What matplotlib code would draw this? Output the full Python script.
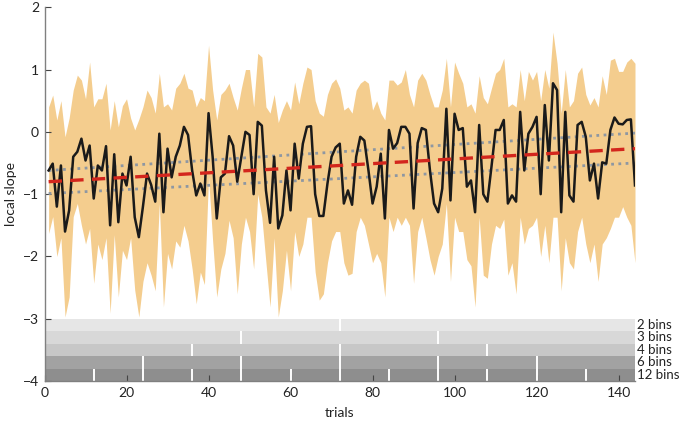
import numpy as np
import matplotlib
matplotlib.use("Agg")
import matplotlib.pyplot as plt

plt.rcParams['font.family'] = ['Lato', 'DejaVu Sans']

# trial-by-trial local slope (black line) and its spread (orange band)
trials = list(range(1, 145))
slope = [-0.62, -0.51, -1.20, -0.54, -1.60, -1.26, -0.40, -0.32, -0.11, -0.46,
         -0.22, -1.07, -0.54, -0.62, -0.23, -1.50, -0.36, -1.45, -0.67, -0.86,
         -0.40, -1.37, -1.69, -1.20, -0.67, -0.85, -1.12, -0.03, -1.29, -0.27,
         -0.73, -0.40, -0.22, 0.08, -0.05, -0.62, -1.02, -0.83, -1.02, 0.30,
         -0.40, -1.39, -0.73, -0.67, -0.07, -0.22, -0.80, -0.40, 0.00, -0.05,
         -1.00, 0.16, 0.10, -0.94, -1.46, -0.40, -1.55, -1.34, -0.62, -1.26,
         -0.19, -0.75, -0.19, 0.08, 0.09, -1.00, -1.35, -1.35, -0.83, -0.40,
         -0.25, -0.19, -1.15, -0.94, -1.17, -0.40, -0.08, -0.14, -0.62, -1.15,
         -0.88, -0.35, -1.39, 0.03, -0.27, -0.18, 0.08, 0.08, -0.03, -1.23,
         -0.18, 0.06, 0.03, -0.62, -1.15, -1.29, -0.91, 0.37, -1.10, 0.29,
         0.03, 0.06, -0.88, -0.78, -1.29, 0.11, -1.00, -1.12, -0.56, 0.03,
         0.03, 0.19, -1.15, -1.02, -1.12, 0.32, -0.62, -0.03, 0.08, 0.24,
         -1.00, 0.43, -0.46, 0.78, 0.67, -1.29, 0.32, -1.02, -1.12, 0.11,
         0.16, -0.08, -0.78, -0.51, -1.07, -0.49, -0.51, 0.03, 0.23, 0.13,
         0.12, 0.19, 0.20, -0.86]
upper = [0.40, 0.59, 0.19, 0.50, -0.08, 0.22, 0.67, 0.91, 0.83, 0.53,
         1.12, 0.40, 0.53, 0.53, 0.78, 0.03, 0.50, 0.08, 0.42, 0.53,
         0.22, 0.03, 0.20, 0.40, 0.67, 0.55, 0.30, 0.94, 0.40, 0.45,
         0.35, 0.70, 0.78, 0.94, 0.70, 0.67, 0.40, 0.55, 0.50, 1.39,
         0.67, 0.19, 0.60, 0.67, 0.78, 0.55, 0.35, 0.70, 1.00, 1.00,
         0.40, 1.26, 1.20, 0.40, 0.30, 0.60, 0.15, 0.35, 0.50, 0.35,
         0.80, 0.45, 0.78, 1.04, 1.00, 0.50, 0.30, 0.25, 0.60, 0.78,
         0.85, 0.70, 0.35, 0.40, 0.30, 0.67, 0.78, 0.83, 0.78, 0.35,
         0.50, 0.30, 0.19, 0.83, 0.83, 0.75, 0.80, 1.00, 0.60, 0.40,
         0.83, 0.94, 0.83, 0.60, 0.40, 0.40, 0.67, 1.18, 0.40, 1.12,
         0.94, 0.78, 0.40, 0.45, 0.30, 0.90, 0.55, 0.45, 0.70, 0.94,
         1.00, 1.18, 0.40, 0.45, 0.40, 1.00, 0.50, 0.97, 0.83, 0.97,
         0.50, 1.00, 0.70, 1.60, 1.10, 0.30, 1.00, 0.40, 0.50, 0.94,
         1.04, 0.60, 0.43, 0.55, 0.40, 0.90, 0.60, 1.15, 1.18, 0.97,
         0.97, 1.12, 1.18, 1.10]
lower = [-1.63, -1.36, -2.00, -1.70, -2.97, -2.65, -1.36, -1.15, -1.50, -1.80,
         -1.55, -2.43, -1.80, -2.05, -1.70, -2.91, -1.65, -2.65, -1.90, -2.05,
         -1.70, -2.54, -2.97, -2.40, -2.10, -2.30, -2.55, -1.15, -2.81, -1.95,
         -2.20, -1.75, -1.85, -1.50, -1.75, -2.20, -2.76, -2.25, -2.45, -0.72,
         -1.75, -2.65, -2.20, -1.95, -1.42, -1.70, -2.60, -1.80, -1.37, -1.60,
         -2.20, -1.00, -1.37, -2.10, -2.81, -1.70, -2.97, -2.55, -1.90, -2.55,
         -1.60, -2.00, -1.80, -1.37, -1.37, -2.25, -2.70, -2.60, -2.10, -1.75,
         -1.60, -1.60, -2.10, -2.30, -2.27, -1.60, -1.37, -1.50, -1.80, -2.10,
         -1.95, -2.10, -2.65, -1.37, -1.60, -1.37, -1.50, -1.37, -1.50, -2.43,
         -1.60, -1.37, -1.70, -2.05, -2.30, -2.00, -1.80, -1.15, -2.40, -1.37,
         -1.60, -1.60, -2.05, -2.15, -2.81, -1.37, -2.30, -2.35, -1.80, -1.50,
         -1.55, -1.40, -2.30, -2.10, -2.60, -1.37, -1.80, -1.55, -1.50, -1.37,
         -2.00, -1.50, -2.10, -1.37, -1.37, -2.55, -1.70, -2.10, -2.20, -1.60,
         -1.37, -1.80, -2.10, -1.80, -2.40, -1.80, -1.70, -1.55, -1.37, -1.37,
         -1.20, -1.37, -1.50, -2.10]

# linear fit and its confidence bounds
fit_x = [1, 72, 144]
fit_y = [-0.80, -0.54, -0.27]
ci_hi = [-0.62, -0.32, -0.02]
ci_lo = [-0.99, -0.75, -0.50]

# binning schemes shown below the data
bin_counts = [2, 3, 4, 6, 12]
bin_labels = ['2 bins', '3 bins', '4 bins', '6 bins', '12 bins']
bin_colors = ['#e6e6e6', '#d8d8d8', '#c7c7c7', '#a2a2a2', '#8e8e8e']

fig = plt.figure(figsize=(6.85, 4.23), dpi=100)
ax = fig.add_axes([0.065, 0.099, 0.862, 0.884])

ax.fill_between(trials, lower, upper, color='#f4cd8e', lw=0, zorder=1)
ax.plot(fit_x, ci_hi, color='#8e97a2', lw=2, ls=(0, (1, 1.6)), zorder=3)
ax.plot(fit_x, ci_lo, color='#8e97a2', lw=2, ls=(0, (1, 1.6)), zorder=3)
ax.plot(trials, slope, color='#1a1a1a', lw=1.8, zorder=4)
ax.plot(fit_x, fit_y, color='#d3261d', lw=2.4, ls=(0, (4, 2.5)), zorder=5)

n_trials = 144
for i, (n, lab, col) in enumerate(zip(bin_counts, bin_labels, bin_colors)):
    top = -3 - 0.2 * i
    ax.barh(top - 0.1, n_trials, left=0, height=0.2, color=col, lw=0, zorder=1)
    edges = [n_trials * k / n for k in range(1, n)]
    ax.vlines(edges, top - 0.2, top, color='white', lw=1.4, zorder=2)
    ax.text(n_trials + 0.6, top - 0.1, lab, fontsize=9.5, va='center',
            ha='left', color='#222222', clip_on=False,
            family=['Liberation Sans Narrow', 'Lato', 'DejaVu Sans'])

ax.set_xlim(0, 144)
ax.set_ylim(-4, 2)
ax.set_xticks(range(0, 141, 20))
ax.set_yticks(range(-4, 3))
ax.set_xlabel('trials', fontsize=10, color='#222222', labelpad=6)
ax.set_ylabel('local slope', fontsize=10, color='#222222', labelpad=4)
ax.tick_params(direction='in', length=4, color='#444444', labelsize=10,
               labelcolor='#222222', pad=4)
for s in ['top', 'right']:
    ax.spines[s].set_visible(False)
for s in ['left', 'bottom']:
    ax.spines[s].set_color('#808080')
    ax.spines[s].set_linewidth(1.0)

fig.savefig('out.png', dpi=100)
